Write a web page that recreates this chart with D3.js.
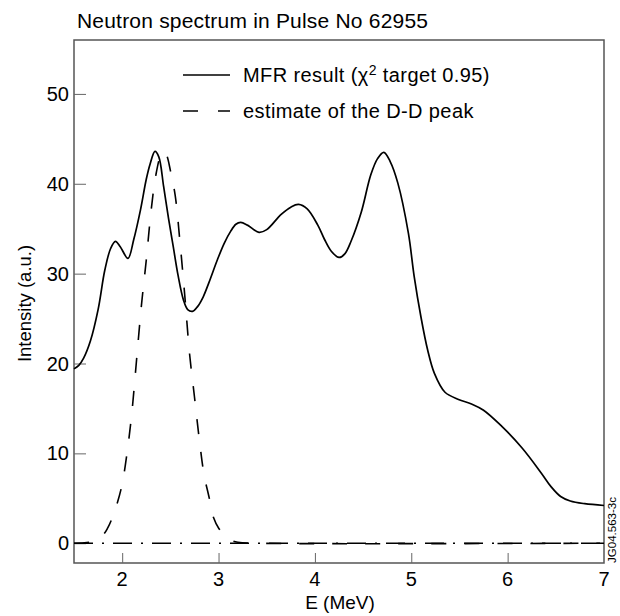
<!DOCTYPE html>
<html>
<head>
<meta charset="utf-8">
<script src="https://cdn.jsdelivr.net/npm/d3@7"></script>
<style>
  body { margin: 0; background: #fff; }
  svg text { font-family: "Liberation Sans", Arial, Helvetica, sans-serif; fill: #000; }
</style>
</head>
<body>
<div id="chart"></div>
<script>
// MFR unfolded spectrum (solid line)
const mfrE = [1.5, 1.55, 1.6, 1.67, 1.75, 1.82, 1.88, 1.93, 1.98, 2.06, 2.12, 2.19, 2.25, 2.29, 2.34, 2.38,
  2.43, 2.48, 2.53, 2.58, 2.635, 2.68, 2.73, 2.78, 2.84, 2.9, 2.99, 3.06, 3.125, 3.18, 3.23, 3.3,
  3.42, 3.5, 3.65, 3.75, 3.83, 3.92, 4.03, 4.1, 4.17, 4.25, 4.31, 4.375, 4.48, 4.58, 4.65, 4.715,
  4.78, 4.86, 4.97, 5.03, 5.1, 5.17, 5.24, 5.35, 5.49, 5.625, 5.75, 5.94, 6.15, 6.35, 6.45, 6.55,
  6.65, 6.8, 7.0];
const mfrI = [19.4, 19.8, 20.6, 22.5, 26.0, 30.4, 32.8, 33.6, 33.0, 31.7, 33.8, 37.1, 40.5, 42.2, 43.6, 43.0,
  39.7, 36.2, 33.0, 29.8, 27.1, 26.0, 25.8, 26.3, 27.4, 29.0, 31.6, 33.4, 34.7, 35.5, 35.7, 35.4,
  34.6, 34.9, 36.6, 37.4, 37.7, 37.2, 35.4, 33.8, 32.5, 31.8, 32.2, 33.6, 36.8, 41.0, 42.8, 43.5,
  42.5, 40.1, 34.5, 29.7, 25.2, 21.5, 18.9, 16.8, 16.0, 15.5, 14.8, 13.0, 10.6, 7.8, 6.3, 5.2,
  4.7, 4.4, 4.2];

// estimate of the D-D peak (dashed line)
const ddE = [1.5, 1.7, 1.8, 1.85, 1.9, 1.95, 2.0, 2.05, 2.1, 2.15, 2.2, 2.25, 2.3, 2.35, 2.4, 2.43,
  2.46, 2.5, 2.55, 2.6, 2.65, 2.7, 2.75, 2.8, 2.85, 2.9, 2.95, 3.0, 3.1, 3.2, 3.4, 7.0];
const ddI = [0, 0.2, 0.9, 1.7, 2.9, 4.5, 6.6, 10.0, 14.5, 20.5, 26.5, 31.5, 37.0, 41.0, 43.2, 43.6,
  43.2, 41.5, 38.7, 33.5, 27.5, 21.0, 16.3, 11.6, 7.6, 5.2, 2.8, 1.7, 0.5, 0.1, 0, 0];

// zero reference (dash-dot)
const zeroE = [1.5, 7];
const zeroI = [0, 0];

const xTicks = [2, 3, 4, 5, 6, 7];
const yTicks = [0, 10, 20, 30, 40, 50];

const W = 620, H = 616;
const m = { left: 74, right: 604, top: 40, bottom: 563 };

const svg = d3.select("#chart").append("svg")
  .attr("width", W).attr("height", H);

const x = d3.scaleLinear().domain([1.5, 7]).range([m.left, m.right]);
const y = d3.scaleLinear().domain([-2.2, 56]).range([m.bottom, m.top]);

// frame
svg.append("rect")
  .attr("x", m.left).attr("y", m.top)
  .attr("width", m.right - m.left).attr("height", m.bottom - m.top)
  .attr("fill", "none").attr("stroke", "#555").attr("stroke-width", 1.5);

// axes with inward ticks
const yAxis = svg.append("g")
  .attr("transform", `translate(${m.left},0)`)
  .call(d3.axisRight(y).tickValues(yTicks).tickSize(12).tickFormat(""));
yAxis.select(".domain").remove();
yAxis.selectAll("line").attr("stroke", "#666");

const xAxis = svg.append("g")
  .attr("transform", `translate(0,${m.bottom})`)
  .call(d3.axisTop(x).tickValues(xTicks.slice(0, -1)).tickSize(10).tickFormat(""));
xAxis.select(".domain").remove();
xAxis.selectAll("line").attr("stroke", "#666");

svg.selectAll(".ylab")
  .data(yTicks)
  .enter().append("text")
  .attr("x", m.left - 5)
  .attr("y", d => y(d) + 7)
  .attr("text-anchor", "end")
  .style("font-size", "20px")
  .text(d => d);

svg.selectAll(".xlab")
  .data(xTicks)
  .enter().append("text")
  .attr("x", d => x(d))
  .attr("y", m.bottom + 23)
  .attr("text-anchor", "middle")
  .style("font-size", "20px")
  .text(d => d);

svg.append("text")
  .attr("x", (m.left + m.right) / 2 + 1)
  .attr("y", 609)
  .attr("text-anchor", "middle")
  .style("font-size", "19px")
  .text("E (MeV)");

svg.append("text")
  .attr("transform", `translate(31,${(m.top + m.bottom) / 2 + 2}) rotate(-90)`)
  .attr("text-anchor", "middle")
  .style("font-size", "18.5px")
  .text("Intensity (a.u.)");

svg.append("text")
  .attr("x", 77)
  .attr("y", 28)
  .style("font-size", "21px")
  .style("letter-spacing", "0.2px")
  .text("Neutron spectrum in Pulse No 62955");

svg.append("text")
  .attr("transform", `translate(616,530) rotate(-90)`)
  .attr("text-anchor", "middle")
  .style("font-size", "11.5px")
  .text("JG04.563-3c");

// lines
const line = d3.line()
  .x(d => x(d[0]))
  .y(d => y(d[1]))
  .curve(d3.curveCatmullRom.alpha(0.5));

svg.append("path")
  .datum(zeroE.map((e, i) => [e, zeroI[i]]))
  .attr("d", d3.line().x(d => x(d[0])).y(d => y(d[1])))
  .attr("fill", "none").attr("stroke", "#000").attr("stroke-width", 1.6)
  .attr("stroke-dasharray", "19,9,2,9");

svg.append("path")
  .datum(ddE.map((e, i) => [e, ddI[i]]))
  .attr("d", line)
  .attr("fill", "none").attr("stroke", "#000").attr("stroke-width", 1.6)
  .attr("stroke-dasharray", "15,18");

svg.append("path")
  .datum(mfrE.map((e, i) => [e, mfrI[i]]))
  .attr("d", line)
  .attr("fill", "none").attr("stroke", "#000").attr("stroke-width", 1.7);

// legend
const legend = [
  { label: "MFR result (", dash: null },
  { label: "estimate of the D-D peak", dash: "15,20" }
];
legend.forEach((d, i) => {
  const ly = 75 + i * 36;
  svg.append("line")
    .attr("x1", 183).attr("x2", 230)
    .attr("y1", ly).attr("y2", ly)
    .attr("stroke", "#000").attr("stroke-width", 1.6)
    .attr("stroke-dasharray", d.dash);
  const t = svg.append("text")
    .attr("x", 243).attr("y", ly + 7)
    .style("font-size", "20px")
    .style("letter-spacing", "0.4px");
  if (i === 0) {
    t.append("tspan").text("MFR result (χ");
    t.append("tspan").attr("dy", -7).style("font-size", "14px").text("2");
    t.append("tspan").attr("dy", 7).text(" target 0.95)");
  } else {
    t.text(d.label);
  }
});
</script>
</body>
</html>
